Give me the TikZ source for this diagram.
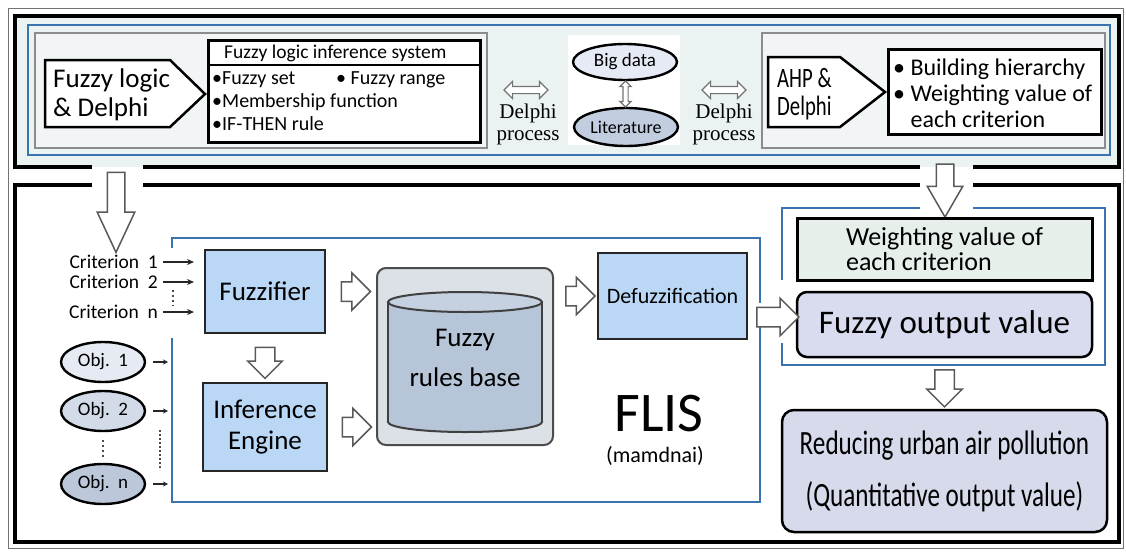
\documentclass[tikz,border=0pt]{standalone}
\usepackage{fontspec}
\setmainfont{Carlito}
\newfontfamily\condf[FakeStretch=0.74]{Carlito}
\newfontfamily\serf{Liberation Serif}
\usetikzlibrary{shapes.arrows,shapes.geometric,arrows.meta,calc}
\definecolor{panelbg}{HTML}{EBF2F2}
\definecolor{grayin}{HTML}{F1F5F5}
\definecolor{blueln}{HTML}{3A74AE}
\definecolor{boxblue}{HTML}{BAD7F6}
\definecolor{bigd}{HTML}{E5EAF4}
\definecolor{litf}{HTML}{C2CDDF}
\definecolor{rbbox}{HTML}{DCE0E7}
\definecolor{cylf}{HTML}{B7C5D8}
\definecolor{wvbox}{HTML}{E6EFEA}
\definecolor{fobox}{HTML}{D9DCEF}
\definecolor{rdbox}{HTML}{D6DAEB}
\definecolor{obja}{HTML}{E6EAF3}
\definecolor{objb}{HTML}{D3DAE8}
\definecolor{objc}{HTML}{BCC7DA}
\newcommand{\fsz}[2]{\fontsize{#1}{#2}\selectfont}
\begin{document}
\begin{tikzpicture}[x=1pt,y=-1pt,
  frame/.style={line width=3.5pt, black},
  bluefr/.style={line width=2.4pt, blueln},
  barrow/.style={single arrow, draw=black!65, fill=white, line width=1.5pt, minimum width=0pt, single arrow head indent=0pt},
  darrow/.style={double arrow, draw=black!55, fill=white, line width=1.2pt, minimum width=0pt},
  bluebox/.style={draw=black!85, line width=2pt, fill=boxblue, align=center},
  objell/.style={ellipse, draw=black, line width=2.4pt, minimum width=84pt, minimum height=40pt, inner sep=0pt, font=\fsz{19}{22}},
  crit/.style={anchor=east, inner sep=0pt, font=\fsz{19.5}{22}},
  inarr/.style={-{Stealth[length=7pt,width=6pt]}, line width=2pt, black!85},
]
\useasboundingbox (0,0) rectangle (1126,552);
\fill[white] (0,0) rectangle (1126,552);
% ===== frames =====
\fill[panelbg] (15,16) rectangle (1119,167);
\draw[black!55, line width=1pt] (8,8) rectangle (1123,548);
\draw[frame] (92,167) -- (15,167) -- (15,16) -- (1119,16) -- (1119,167) -- (973,167);
\draw[frame] (143,167) -- (920,167);
\draw[frame] (92,185) -- (15,185) -- (15,542) -- (1119,542) -- (1119,185) -- (973,185);
\draw[frame] (143,185) -- (920,185);
% ===== top panel =====
\draw[bluefr] (28,25) rectangle (1110,155);
\draw[black!45, line width=1.2pt, fill=grayin] (35,33) rectangle (487,148);
\draw[black!45, line width=1.2pt, fill=grayin] (762,33) rectangle (1105,148);
\fill[white] (568,35) rectangle (680,145);
% Fuzzy logic & Delphi
\draw[line width=2.5pt, fill=white] (45,60) -- (170,60) -- (205,94) -- (170,127) -- (45,127) -- cycle;
\node[anchor=west, align=left, inner sep=0pt, font=\fsz{27}{29}] (fld) at (53,95) {Fuzzy logic\\\& Delphi};
% FLIS box
\draw[line width=3pt, fill=white] (208,40) rectangle (480,142);
\draw[line width=1.5pt] (208,65) -- (480,65);
\node[anchor=west, inner sep=0pt, font=\fsz{19.5}{22}] (fist) at (224,53) {Fuzzy logic inference system};
\node[anchor=west, inner sep=0pt, font=\fsz{20}{22}] (i1) at (212,80) {•Fuzzy set};
\node[anchor=west, inner sep=0pt, font=\fsz{20}{22}] (i2) at (336,80) {• Fuzzy range};
\node[anchor=west, inner sep=0pt, font=\fsz{20}{22}] (i3) at (212,102) {•Membership function};
\node[anchor=west, inner sep=0pt, font=\fsz{20}{22}] (i4) at (212,124) {•IF-THEN rule};
% Delphi process
\node[darrow, inner sep=3pt, double arrow head extend=5pt, minimum height=44pt] (da1) at (526,90) {};
\node[font=\serf\fsz{21}{22}, align=center, inner sep=0pt] (dp1) at (528,124) {Delphi\\process};
\node[darrow, inner sep=3pt, double arrow head extend=5pt, minimum height=44pt] (da2) at (724,90) {};
\node[font=\serf\fsz{21}{22}, align=center, inner sep=0pt] (dp2) at (724,124) {Delphi\\process};
% Big data / Literature
\node[ellipse, draw, line width=2.4pt, fill=bigd, minimum width=104pt, minimum height=36pt, inner sep=0pt, font=\fsz{19}{20}] (bd) at (625,62) {Big data};
\node[ellipse, draw, line width=2.4pt, fill=litf, minimum width=104pt, minimum height=38pt, inner sep=0pt, font=\fsz{18}{20}] (lit) at (626,127) {Literature};
\node[darrow, inner sep=2pt, double arrow head extend=3pt, minimum height=26pt, shape border rotate=90] (da0) at ($(bd.south)!0.5!(lit.north)$) {};
% AHP & Delphi
\draw[line width=2.5pt, fill=white] (768,57) -- (840,57) -- (885,92) -- (840,127) -- (768,127) -- cycle;
\node[anchor=west, align=left, inner sep=0pt, font=\condf\fsz{28}{28}] (ahp) at (777,94) {AHP \&\\Delphi};
\node[draw, line width=3pt, fill=white, minimum width=213pt, minimum height=85pt, anchor=north west] (bh) at (887,48) {};
\node[anchor=west, align=left, inner sep=0pt, font=\fsz{24}{26}] (bht) at (893,93) {• Building hierarchy\\• Weighting value of\\\phantom{• }each criterion};
% ===== lower panel =====
\node[barrow, inner sep=8pt, single arrow head extend=10pt, single arrow tip angle=50, minimum height=80pt, shape border rotate=270] (bigL) at (116,203) {};
% FLIS frame
\draw[bluefr] (172,248) -- (172,238) -- (760,238) -- (760,303);
\draw[bluefr] (760,327) -- (760,502) -- (172,502) -- (172,338);
\coordinate (flf) at (172,238);
% right frame
\draw[bluefr] (920,208) -- (782,208) -- (782,280);
\draw[bluefr] (782,343) -- (782,365) -- (1105,365) -- (1105,208) -- (973,208);
\node[barrow, inner sep=8pt, single arrow head extend=9pt, single arrow tip angle=60, minimum height=53pt, shape border rotate=270] (bigR) at (945,183) {};
% Fuzzifier / Inference
\node[bluebox, minimum width=120pt, minimum height=83pt, font=\fsz{27}{31}] (fz) at (265,291.5) {Fuzzifier};
\node[bluebox, minimum width=124pt, minimum height=88pt, font=\fsz{27}{31}] (ie) at (265,427) {Inference\\Engine};
\node[barrow, inner sep=9pt, single arrow head extend=7.5pt, minimum height=31pt, shape border rotate=270] (afi) at ($(fz.south)!0.5!(ie.north)$) {};
% Criteria
\node[crit] (c1) at (158,262) {Criterion\ \ 1};
\node[crit] (c2) at (158,282) {Criterion\ \ 2};
\node[crit] (cn) at (158,312) {Criterion\ \ n};
\draw[inarr, shorten <=5pt, shorten >=10pt] (c1.east) -- (c1.east -| fz.west);
\draw[inarr, shorten <=5pt, shorten >=10pt] (c2.east) -- (c2.east -| fz.west);
\draw[inarr, shorten <=5pt, shorten >=10pt] (cn.east) -- (cn.east -| fz.west);
\draw[dash pattern=on 2pt off 3pt, line width=2pt, black!70] (173,290) -- (173,306);
% Objects
\node[objell, fill=obja] (o1) at (103,362) {Obj.\ \ 1};
\node[objell, fill=objb] (o2) at (103,411) {Obj.\ \ 2};
\node[objell, fill=objc] (on) at (103,484) {Obj.\ \ n};
\draw[-{Stealth[length=5pt,width=5pt]}, line width=2pt, black!85, shorten <=7pt, shorten >=4pt] (o1.east) -- (o1.east -| flf);
\draw[-{Stealth[length=5pt,width=5pt]}, line width=2pt, black!85, shorten <=7pt, shorten >=4pt] (o2.east) -- (o2.east -| flf);
\draw[-{Stealth[length=5pt,width=5pt]}, line width=2pt, black!85, shorten <=7pt, shorten >=4pt] (on.east) -- (on.east -| flf);
\draw[dash pattern=on 2pt off 3pt, line width=2.2pt, black!70] (103,440) -- (103,458);
\draw[dash pattern=on 2pt off 2pt, line width=2pt, black!70] (160,430) -- (160,470);
% Rules base
\node[draw=black!70, line width=2pt, rounded corners=9pt, fill=rbbox, minimum width=176pt, minimum height=177pt] (rb) at (465,356.5) {};
\filldraw[fill=cylf, draw=black!75, line width=2pt] (465,422) ellipse [x radius=77, y radius=10];
\fill[cylf] (388,302) rectangle (542,422);
\draw[black!75, line width=2pt] (388,302) -- (388,422) (542,302) -- (542,422);
\filldraw[fill=cylf!80!white, draw=black!75, line width=2pt] (465,302) ellipse [x radius=77, y radius=10];
\node[font=\fsz{27}{40}, align=center] (rbt) at (465,358) {Fuzzy\\rules base};
\node[barrow, inner sep=9pt, single arrow head extend=9pt, minimum height=28pt] (afr) at ($(fz.east)!0.5!(fz.east -| rb.west)$) {};
\node[barrow, inner sep=9pt, single arrow head extend=9pt, minimum height=28pt] (air) at ($(ie.east)!0.5!(ie.east -| rb.west)$) {};
% Defuzzification
\node[bluebox, minimum width=149pt, minimum height=86pt, font=\fsz{22}{26}] (dz) at (672.5,296) {Defuzzification};
\node[barrow, inner sep=9pt, single arrow head extend=9pt, minimum height=28pt] (ard) at ($(rb.east |- dz.west)!0.5!(dz.west)$) {};
\node[font=\fsz{56}{56}, inner sep=0pt] (flis) at (659,414) {FLIS};
\node[font=\fsz{22}{24}, inner sep=0pt] (mam) at (655,456) {(mamdnai)};
% Right outputs
\node[draw, line width=3pt, fill=wvbox, minimum width=295pt, minimum height=62pt, font=\fsz{26}{25}, align=left] (wv) at (944.5,249) {Weighting value of\\each criterion};
\node[draw, line width=2.5pt, rounded corners=10pt, fill=fobox, minimum width=295pt, minimum height=65pt, font=\fsz{33}{36}] (fo) at (944.5,324.5) {Fuzzy output value};
\node[barrow, inner sep=9pt, single arrow head extend=9pt, minimum height=42pt] (adf) at (773,317) {};
\node[draw, line width=2.5pt, rounded corners=12pt, fill=rdbox, minimum width=325pt, minimum height=122pt, font=\condf\fsz{34}{52}, align=center] (rd) at (944.5,471) {Reducing urban air pollution\\(Quantitative output value)};
\node[barrow, inner sep=9pt, single arrow head extend=8pt, minimum height=37pt, shape border rotate=270] (afo) at ($(fo.south)!0.5!(rd.north)$) {};
\end{tikzpicture}
\end{document}
